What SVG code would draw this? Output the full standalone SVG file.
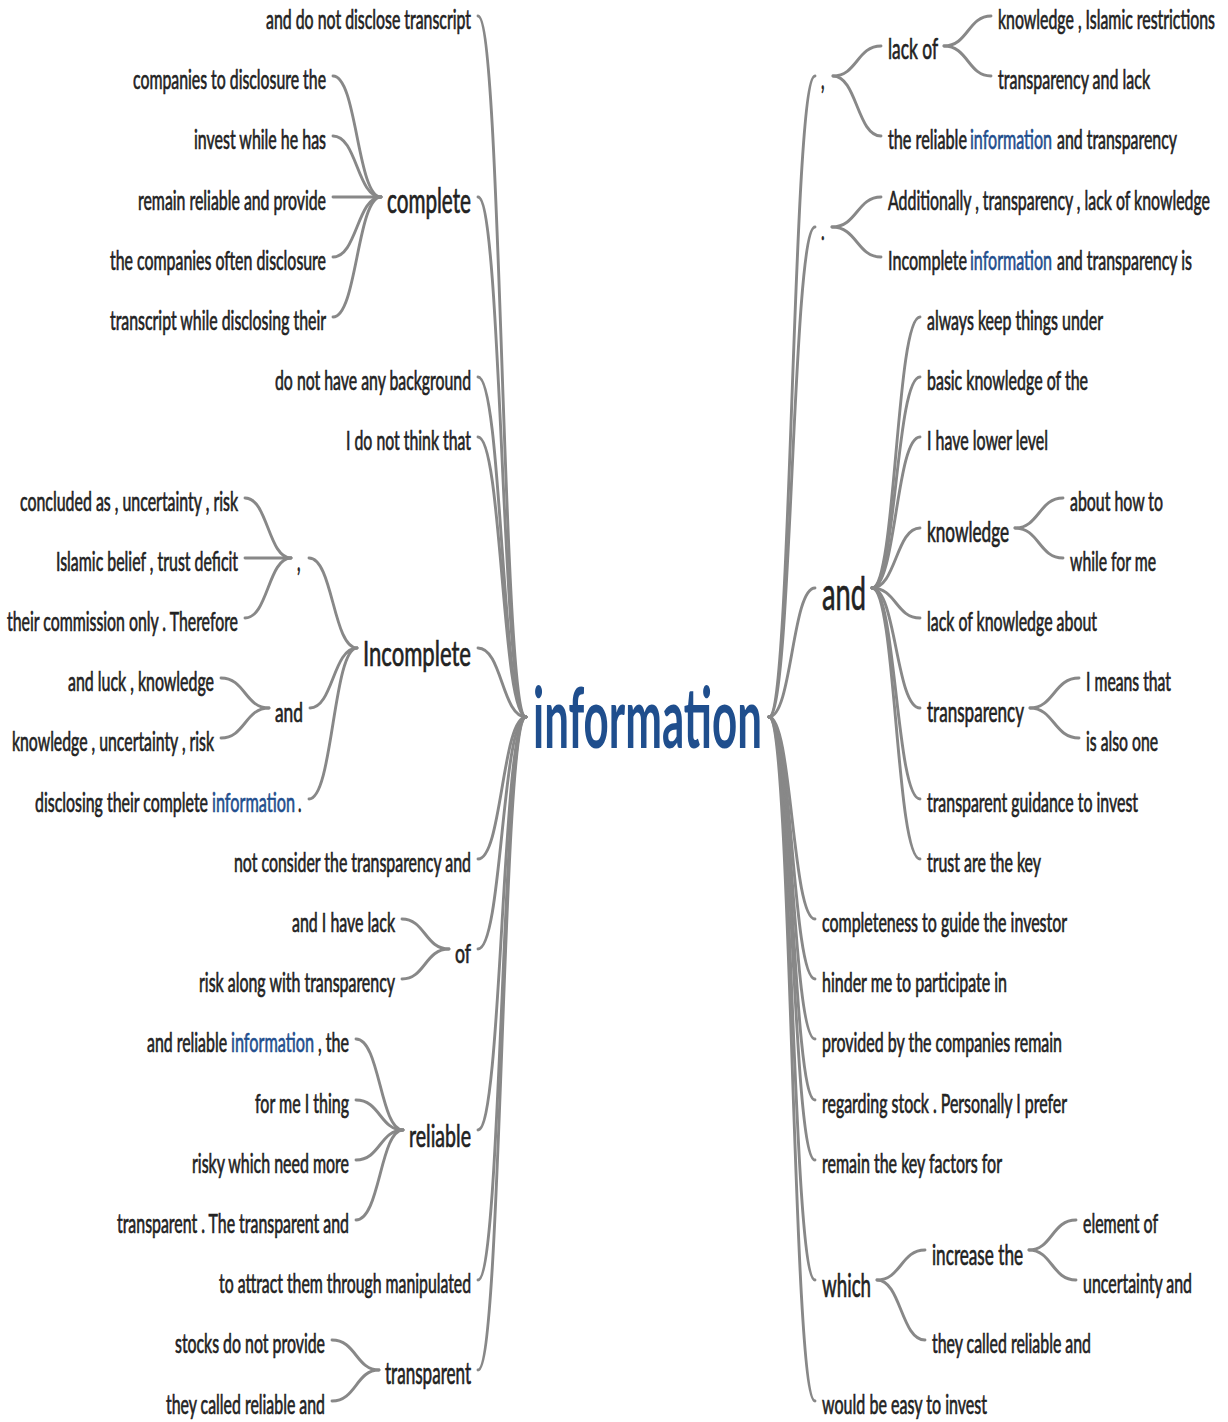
<svg xmlns="http://www.w3.org/2000/svg" width="1228" height="1422" viewBox="0 0 1228 1422">
<style>
  text { font-family: Lato, "Open Sans", "Liberation Sans", sans-serif; fill: #222; stroke: #222; stroke-width: 0.7; }
  .leaf { font-size: 27px; }
  .hl { fill: #1f4e8d; stroke: #1f4e8d; }
  .root { font-size: 84px; font-weight: bold; fill: #1f4e8d; stroke: none; }
  #connectors path { fill: none; stroke: #888; stroke-width: 2.9; stroke-linecap: round; }
</style>
<rect width="1228" height="1422" fill="#ffffff"/>

<g id="connectors">
  <!-- left branches into the root -->
  <path d="M478,16 C502,16 502,717 526,717"/>
  <path d="M478,197 C502,197 502,717 526,717"/>
  <path d="M478,377 C502,377 502,717 526,717"/>
  <path d="M478,437 C502,437 502,717 526,717"/>
  <path d="M478,648 C502,648 502,717 526,717"/>
  <path d="M478,859 C502,859 502,717 526,717"/>
  <path d="M478,949 C502,949 502,717 526,717"/>
  <path d="M478,1130 C502,1130 502,717 526,717"/>
  <path d="M478,1280 C502,1280 502,717 526,717"/>
  <path d="M478,1370 C502,1370 502,717 526,717"/>
  <!-- complete -->
  <path d="M333,76 C357,76 357,197 381,197"/>
  <path d="M333,136 C357,136 357,197 381,197"/>
  <path d="M333,197 C357,197 357,197 381,197"/>
  <path d="M333,257 C357,257 357,197 381,197"/>
  <path d="M333,317 C357,317 357,197 381,197"/>
  <!-- comma under Incomplete -->
  <path d="M245,498 C268,498 268,558 291,558"/>
  <path d="M245,558 C268,558 268,558 291,558"/>
  <path d="M245,618 C268,618 268,558 291,558"/>
  <!-- and under Incomplete -->
  <path d="M221,678 C245,678 245,708 269,708"/>
  <path d="M221,738 C245,738 245,708 269,708"/>
  <!-- Incomplete -->
  <path d="M309,558 C333,558 333,648 357,648"/>
  <path d="M310,708 C333,708 333,648 357,648"/>
  <path d="M309,799 C333,799 333,648 357,648"/>
  <!-- of -->
  <path d="M402,919 C425,919 425,949 449,949"/>
  <path d="M402,979 C425,979 425,949 449,949"/>
  <!-- reliable -->
  <path d="M356,1039 C380,1039 380,1130 403,1130"/>
  <path d="M356,1100 C380,1100 380,1130 403,1130"/>
  <path d="M356,1160 C380,1160 380,1130 403,1130"/>
  <path d="M356,1220 C380,1220 380,1130 403,1130"/>
  <!-- transparent -->
  <path d="M332,1340 C356,1340 356,1370 379,1370"/>
  <path d="M332,1401 C356,1401 356,1370 379,1370"/>

  <!-- right branches out of the root -->
  <path d="M769,717 C792,717 792,76 815,76"/>
  <path d="M769,717 C792,717 792,227 815,227"/>
  <path d="M769,717 C792,717 792,588 815,588"/>
  <path d="M769,717 C792,717 792,919 815,919"/>
  <path d="M769,717 C792,717 792,979 815,979"/>
  <path d="M769,717 C792,717 792,1039 815,1039"/>
  <path d="M769,717 C792,717 792,1100 815,1100"/>
  <path d="M769,717 C792,717 792,1160 815,1160"/>
  <path d="M769,717 C792,717 792,1280 815,1280"/>
  <path d="M769,717 C792,717 792,1401 815,1401"/>
  <!-- comma -->
  <path d="M833,76 C857,76 857,46 881,46"/>
  <path d="M833,76 C857,76 857,136 881,136"/>
  <!-- lack of -->
  <path d="M944,46 C968,46 968,16 991,16"/>
  <path d="M944,46 C968,46 968,76 991,76"/>
  <!-- period -->
  <path d="M832,227 C857,227 857,197 881,197"/>
  <path d="M832,227 C857,227 857,257 881,257"/>
  <!-- and -->
  <path d="M872,588 C896,588 896,317 920,317"/>
  <path d="M872,588 C896,588 896,377 920,377"/>
  <path d="M872,588 C896,588 896,437 920,437"/>
  <path d="M872,588 C896,588 896,528 920,528"/>
  <path d="M872,588 C896,588 896,618 920,618"/>
  <path d="M872,588 C896,588 896,708 920,708"/>
  <path d="M872,588 C896,588 896,799 920,799"/>
  <path d="M872,588 C896,588 896,859 920,859"/>
  <!-- knowledge -->
  <path d="M1015,528 C1039,528 1039,498 1063,498"/>
  <path d="M1015,528 C1039,528 1039,558 1063,558"/>
  <!-- transparency -->
  <path d="M1030,708 C1054,708 1054,678 1079,678"/>
  <path d="M1030,708 C1054,708 1054,738 1079,738"/>
  <!-- which -->
  <path d="M877,1280 C901,1280 901,1250 925,1250"/>
  <path d="M877,1280 C901,1280 901,1340 925,1340"/>
  <!-- increase the -->
  <path d="M1029,1250 C1052,1250 1052,1220 1076,1220"/>
  <path d="M1029,1250 C1052,1250 1052,1280 1076,1280"/>
</g>

<!-- root word; every label is drawn in a narrow face: translate to its spot, squeeze to 55% width -->
<g id="n-information"><text class="root" transform="translate(533,748) scale(.55,1)" textLength="416.4" lengthAdjust="spacingAndGlyphs">information</text></g>

<!-- left side -->
<g id="l-k0"><text class="leaf" transform="translate(266,29) scale(.55,1)" textLength="372.7" lengthAdjust="spacingAndGlyphs">and do not disclose transcript</text></g>
<g id="l-complete"><text transform="translate(387,213) scale(.55,1)" font-size="34" textLength="152.7" lengthAdjust="spacingAndGlyphs">complete</text></g>
<g id="l-k1"><text class="leaf" transform="translate(133,89) scale(.55,1)" textLength="350.9" lengthAdjust="spacingAndGlyphs">companies to disclosure the</text></g>
<g id="l-k2"><text class="leaf" transform="translate(194,149) scale(.55,1)" textLength="240" lengthAdjust="spacingAndGlyphs">invest while he has</text></g>
<g id="l-k3"><text class="leaf" transform="translate(138,210) scale(.55,1)" textLength="341.8" lengthAdjust="spacingAndGlyphs">remain reliable and provide</text></g>
<g id="l-k4"><text class="leaf" transform="translate(110,270) scale(.55,1)" textLength="392.7" lengthAdjust="spacingAndGlyphs">the companies often disclosure</text></g>
<g id="l-k5"><text class="leaf" transform="translate(110,330) scale(.55,1)" textLength="392.7" lengthAdjust="spacingAndGlyphs">transcript while disclosing their</text></g>
<g id="l-k6"><text class="leaf" transform="translate(275,390) scale(.55,1)" textLength="356.4" lengthAdjust="spacingAndGlyphs">do not have any background</text></g>
<g id="l-k7"><text class="leaf" transform="translate(346,450) scale(.55,1)" textLength="227.3" lengthAdjust="spacingAndGlyphs">I do not think that</text></g>
<g id="l-incomplete"><text transform="translate(363,666) scale(.55,1)" font-size="35" textLength="196.4" lengthAdjust="spacingAndGlyphs">Incomplete</text></g>
<g id="l-comma"><text transform="translate(297,571) scale(.55,1)" font-size="28">,</text></g>
<g id="l-k8"><text class="leaf" transform="translate(20,511) scale(.55,1)" textLength="396.4" lengthAdjust="spacingAndGlyphs">concluded as , uncertainty , risk</text></g>
<g id="l-k9"><text class="leaf" transform="translate(56,571) scale(.55,1)" textLength="330.9" lengthAdjust="spacingAndGlyphs">Islamic belief , trust deficit</text></g>
<g id="l-k10"><text class="leaf" transform="translate(7,631) scale(.55,1)" textLength="420" lengthAdjust="spacingAndGlyphs">their commission only . Therefore</text></g>
<g id="l-and"><text transform="translate(275,722) scale(.55,1)" font-size="27" textLength="50.9" lengthAdjust="spacingAndGlyphs">and</text></g>
<g id="l-k11"><text class="leaf" transform="translate(68,691) scale(.55,1)" textLength="265.5" lengthAdjust="spacingAndGlyphs">and luck , knowledge</text></g>
<g id="l-k12"><text class="leaf" transform="translate(12,751) scale(.55,1)" textLength="367.3" lengthAdjust="spacingAndGlyphs">knowledge , uncertainty , risk</text></g>
<g id="l-k13">
  <text class="leaf" transform="translate(35,812) scale(.55,1)" textLength="314.5" lengthAdjust="spacingAndGlyphs">disclosing their complete</text>
  <text class="leaf hl" transform="translate(212,812) scale(.55,1)" textLength="150.9" lengthAdjust="spacingAndGlyphs">information</text>
  <text class="leaf" transform="translate(298,812) scale(.55,1)">.</text>
</g>
<g id="l-k14"><text class="leaf" transform="translate(234,872) scale(.55,1)" textLength="430.9" lengthAdjust="spacingAndGlyphs">not consider the transparency and</text></g>
<g id="l-of"><text transform="translate(455,963) scale(.55,1)" font-size="27" textLength="29.1" lengthAdjust="spacingAndGlyphs">of</text></g>
<g id="l-k15"><text class="leaf" transform="translate(292,932) scale(.55,1)" textLength="187.3" lengthAdjust="spacingAndGlyphs">and I have lack</text></g>
<g id="l-k16"><text class="leaf" transform="translate(199,992) scale(.55,1)" textLength="356.4" lengthAdjust="spacingAndGlyphs">risk along with transparency</text></g>
<g id="l-reliable"><text transform="translate(409,1147) scale(.55,1)" font-size="31" textLength="112.7" lengthAdjust="spacingAndGlyphs">reliable</text></g>
<g id="l-k17">
  <text class="leaf" transform="translate(147,1052) scale(.55,1)" textLength="145.5" lengthAdjust="spacingAndGlyphs">and reliable</text>
  <text class="leaf hl" transform="translate(231,1052) scale(.55,1)" textLength="150.9" lengthAdjust="spacingAndGlyphs">information</text>
  <text class="leaf" transform="translate(318,1052) scale(.55,1)" textLength="56.4" lengthAdjust="spacingAndGlyphs">, the</text>
</g>
<g id="l-k18"><text class="leaf" transform="translate(255,1113) scale(.55,1)" textLength="170.9" lengthAdjust="spacingAndGlyphs">for me I thing</text></g>
<g id="l-k19"><text class="leaf" transform="translate(192,1173) scale(.55,1)" textLength="285.5" lengthAdjust="spacingAndGlyphs">risky which need more</text></g>
<g id="l-k20"><text class="leaf" transform="translate(117,1233) scale(.55,1)" textLength="421.8" lengthAdjust="spacingAndGlyphs">transparent . The transparent and</text></g>
<g id="l-k21"><text class="leaf" transform="translate(219,1293) scale(.55,1)" textLength="458.2" lengthAdjust="spacingAndGlyphs">to attract them through manipulated</text></g>
<g id="l-transparent"><text transform="translate(385,1384) scale(.55,1)" font-size="30" textLength="156.4" lengthAdjust="spacingAndGlyphs">transparent</text></g>
<g id="l-k22"><text class="leaf" transform="translate(175,1353) scale(.55,1)" textLength="272.7" lengthAdjust="spacingAndGlyphs">stocks do not provide</text></g>
<g id="l-k23"><text class="leaf" transform="translate(166,1414) scale(.55,1)" textLength="289.1" lengthAdjust="spacingAndGlyphs">they called reliable and</text></g>

<!-- right side -->
<g id="r-comma"><text transform="translate(821,89) scale(.55,1)" font-size="28">,</text></g>
<g id="r-lackof"><text transform="translate(888,59) scale(.55,1)" font-size="29" textLength="90.9" lengthAdjust="spacingAndGlyphs">lack of</text></g>
<g id="r-k0"><text class="leaf" transform="translate(998,29) scale(.55,1)" textLength="394.5" lengthAdjust="spacingAndGlyphs">knowledge , Islamic restrictions</text></g>
<g id="r-k1"><text class="leaf" transform="translate(998,89) scale(.55,1)" textLength="276.4" lengthAdjust="spacingAndGlyphs">transparency and lack</text></g>
<g id="r-k2">
  <text class="leaf" transform="translate(888,149) scale(.55,1)" textLength="143.6" lengthAdjust="spacingAndGlyphs">the reliable</text>
  <text class="leaf hl" transform="translate(970,149) scale(.55,1)" textLength="149.1" lengthAdjust="spacingAndGlyphs">information</text>
  <text class="leaf" transform="translate(1057,149) scale(.55,1)" textLength="218.2" lengthAdjust="spacingAndGlyphs">and transparency</text>
</g>
<g id="r-period"><text transform="translate(821,240) scale(.55,1)" font-size="28">.</text></g>
<g id="r-k3"><text class="leaf" transform="translate(888,210) scale(.55,1)" textLength="585.5" lengthAdjust="spacingAndGlyphs">Additionally , transparency , lack of knowledge</text></g>
<g id="r-k4">
  <text class="leaf" transform="translate(888,270) scale(.55,1)" textLength="143.6" lengthAdjust="spacingAndGlyphs">Incomplete</text>
  <text class="leaf hl" transform="translate(970,270) scale(.55,1)" textLength="149.1" lengthAdjust="spacingAndGlyphs">information</text>
  <text class="leaf" transform="translate(1057,270) scale(.55,1)" textLength="245.5" lengthAdjust="spacingAndGlyphs">and transparency is</text>
</g>
<g id="r-and"><text transform="translate(822,610) scale(.55,1)" font-size="46" textLength="80" lengthAdjust="spacingAndGlyphs">and</text></g>
<g id="r-k5"><text class="leaf" transform="translate(927,330) scale(.55,1)" textLength="320" lengthAdjust="spacingAndGlyphs">always keep things under</text></g>
<g id="r-k6"><text class="leaf" transform="translate(927,390) scale(.55,1)" textLength="292.7" lengthAdjust="spacingAndGlyphs">basic knowledge of the</text></g>
<g id="r-k7"><text class="leaf" transform="translate(927,450) scale(.55,1)" textLength="220" lengthAdjust="spacingAndGlyphs">I have lower level</text></g>
<g id="r-knowledge"><text transform="translate(927,542) scale(.55,1)" font-size="29" textLength="149.1" lengthAdjust="spacingAndGlyphs">knowledge</text></g>
<g id="r-k8"><text class="leaf" transform="translate(1070,511) scale(.55,1)" textLength="169.1" lengthAdjust="spacingAndGlyphs">about how to</text></g>
<g id="r-k9"><text class="leaf" transform="translate(1070,571) scale(.55,1)" textLength="156.4" lengthAdjust="spacingAndGlyphs">while for me</text></g>
<g id="r-k10"><text class="leaf" transform="translate(927,631) scale(.55,1)" textLength="309.1" lengthAdjust="spacingAndGlyphs">lack of knowledge about</text></g>
<g id="r-transparency"><text transform="translate(927,722) scale(.55,1)" font-size="29" textLength="176.4" lengthAdjust="spacingAndGlyphs">transparency</text></g>
<g id="r-k11"><text class="leaf" transform="translate(1086,691) scale(.55,1)" textLength="154.5" lengthAdjust="spacingAndGlyphs">I means that</text></g>
<g id="r-k12"><text class="leaf" transform="translate(1086,751) scale(.55,1)" textLength="130.9" lengthAdjust="spacingAndGlyphs">is also one</text></g>
<g id="r-k13"><text class="leaf" transform="translate(927,812) scale(.55,1)" textLength="383.6" lengthAdjust="spacingAndGlyphs">transparent guidance to invest</text></g>
<g id="r-k14"><text class="leaf" transform="translate(927,872) scale(.55,1)" textLength="207.3" lengthAdjust="spacingAndGlyphs">trust are the key</text></g>
<g id="r-k15"><text class="leaf" transform="translate(822,932) scale(.55,1)" textLength="445.5" lengthAdjust="spacingAndGlyphs">completeness to guide the investor</text></g>
<g id="r-k16"><text class="leaf" transform="translate(822,992) scale(.55,1)" textLength="336.4" lengthAdjust="spacingAndGlyphs">hinder me to participate in</text></g>
<g id="r-k17"><text class="leaf" transform="translate(822,1052) scale(.55,1)" textLength="436.4" lengthAdjust="spacingAndGlyphs">provided by the companies remain</text></g>
<g id="r-k18"><text class="leaf" transform="translate(822,1113) scale(.55,1)" textLength="445.5" lengthAdjust="spacingAndGlyphs">regarding stock . Personally I prefer</text></g>
<g id="r-k19"><text class="leaf" transform="translate(822,1173) scale(.55,1)" textLength="327.3" lengthAdjust="spacingAndGlyphs">remain the key factors for</text></g>
<g id="r-which"><text transform="translate(822,1297) scale(.55,1)" font-size="33" textLength="89.1" lengthAdjust="spacingAndGlyphs">which</text></g>
<g id="r-increase"><text transform="translate(932,1265) scale(.55,1)" font-size="29" textLength="165.5" lengthAdjust="spacingAndGlyphs">increase the</text></g>
<g id="r-k20"><text class="leaf" transform="translate(1083,1233) scale(.55,1)" textLength="136.4" lengthAdjust="spacingAndGlyphs">element of</text></g>
<g id="r-k21"><text class="leaf" transform="translate(1083,1293) scale(.55,1)" textLength="198.2" lengthAdjust="spacingAndGlyphs">uncertainty and</text></g>
<g id="r-k22"><text class="leaf" transform="translate(932,1353) scale(.55,1)" textLength="289.1" lengthAdjust="spacingAndGlyphs">they called reliable and</text></g>
<g id="r-k23"><text class="leaf" transform="translate(822,1414) scale(.55,1)" textLength="300" lengthAdjust="spacingAndGlyphs">would be easy to invest</text></g>
</svg>
